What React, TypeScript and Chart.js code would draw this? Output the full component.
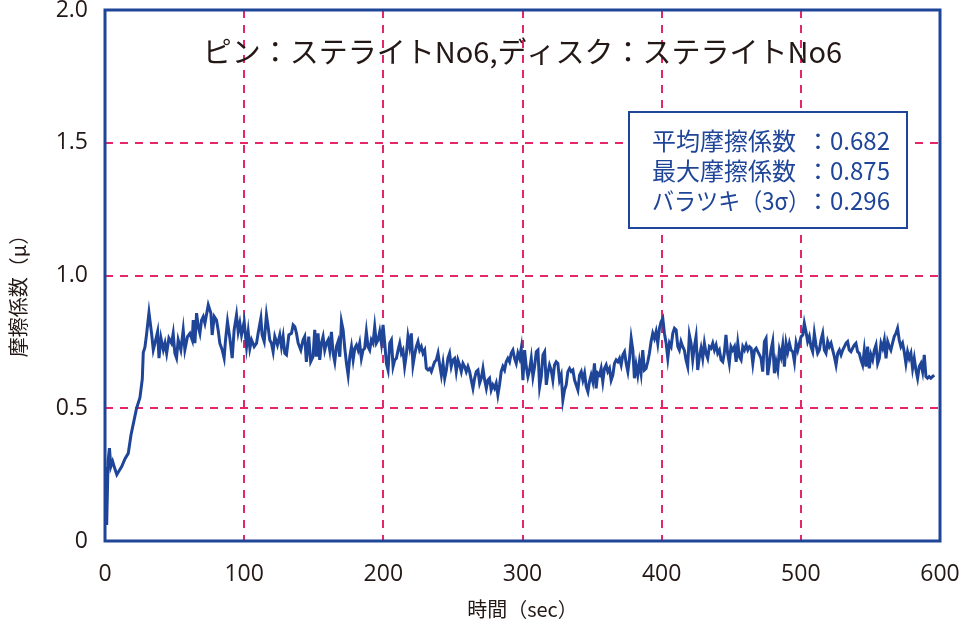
import { useEffect, useRef } from 'react';
import { Chart, registerables } from 'chart.js';

Chart.register(...registerables);

// ---- data (time in seconds, friction coefficient μ) ----
const timeSec: number[] = [
  0, 1.2, 2.2, 3.2, 4.2, 5.5, 7.2, 8.5, 9.6, 12.0,
  14.4, 16.7, 18.7, 20.3, 22.7, 25.1, 26.8, 27.5, 28.7, 29.9,
  31.6, 33.5, 34.7, 35.9, 37.8, 38.8, 40.2, 41.9, 43.1, 44.3,
  45.9, 47.8, 49.0, 50.2, 51.4, 52.6, 54.5, 56.2, 57.4, 59.3,
  61.0, 62.7, 63.4, 64.6, 65.8, 67.0, 68.2, 69.4, 70.6, 71.8,
  74.2, 76.1, 77.0, 78.5, 80.1, 81.3, 82.5, 84.2, 85.6, 86.6,
  88.0, 89.7, 91.4, 92.8, 94.5, 95.7, 96.9, 98.1, 100.0, 101.7,
  102.9, 104.1, 105.3, 107.2, 108.9, 110.0, 112.0, 112.9, 114.4, 116.0,
  117.2, 118.4, 119.6, 120.8, 122.0, 123.9, 125.6, 126.8, 128.0, 129.2,
  130.4, 132.1, 134.0, 135.2, 136.4, 137.6, 138.8, 140.7, 142.3, 143.5,
  144.7, 146.4, 147.8, 149.5,
  150.7, 151.9, 153.1, 154.3, 155.5, 156.7, 157.9, 159.1, 160.3, 161.5,
  162.7, 163.9, 165.1, 166.3, 167.5, 168.7, 169.9, 171.1, 172.3, 173.5,
  174.7, 175.9, 177.1, 178.3, 179.5, 180.7, 181.9, 183.0, 184.2, 185.4,
  186.6, 187.8, 189.0, 190.2, 191.4, 192.6, 193.8, 195.0, 196.2, 197.4,
  198.6, 199.8, 201.0, 202.2, 203.4, 204.6, 205.8, 207.0, 208.2, 209.4,
  210.6, 211.8, 213.0, 214.1, 215.3, 216.5, 217.7, 218.9, 220.1, 221.3,
  222.5, 223.7, 224.9, 226.1, 227.3, 228.5, 229.7, 230.9, 232.1, 233.3,
  234.5, 235.7, 236.9, 238.1, 239.3, 240.5, 241.7, 242.9, 244.1, 245.3,
  246.4, 247.6, 248.8, 250.0, 251.2, 252.4, 253.6, 254.8, 256.0, 257.2,
  258.4, 259.6, 260.8, 262.0, 263.2, 264.4, 265.6, 266.8, 268.0, 269.2,
  270.4, 271.6, 272.8, 274.0, 275.1, 276.3, 277.5, 278.7, 279.9, 281.1,
  282.3, 283.5, 284.7, 285.9, 287.1, 288.3, 289.5, 290.7, 291.9, 293.1,
  294.3, 295.5, 296.7, 297.9, 299.1, 300.3,
  301.5, 302.7, 303.9, 305.1, 306.3, 307.5, 308.7, 309.9, 311.1, 312.3,
  313.5, 314.7, 315.9, 317.1, 318.2, 319.4, 320.6, 321.8, 323.0, 324.2,
  325.4, 326.6, 327.8, 329.0, 330.2, 331.4, 332.6, 333.8, 335.0, 336.2,
  337.4, 338.6, 339.8, 341.0, 342.2, 343.4, 344.6, 345.8, 347.0, 348.1,
  349.3, 350.5, 351.7, 352.9, 354.1, 355.3, 356.5, 357.7, 358.9, 360.1,
  361.3, 362.5, 363.7, 364.9, 366.1, 367.3, 368.5, 369.7, 370.9, 372.1,
  373.3, 374.5, 375.7, 376.9, 378.1, 379.3, 380.4, 381.6, 382.8, 384.0,
  385.2, 386.4, 387.6, 388.8, 390.0, 391.2, 392.4, 393.6, 394.8, 396.0,
  397.2, 398.4, 399.6, 400.8, 402.0, 403.2, 404.4, 405.6, 406.8, 408.0,
  409.2, 410.4, 411.6, 412.7, 413.9, 415.1, 416.3, 417.5, 418.7, 419.9,
  421.1, 422.3, 423.5, 424.7, 425.9, 427.1, 428.3, 429.5, 430.7, 431.9,
  433.1, 434.3, 435.5, 436.7, 437.9, 439.1, 440.3, 441.5, 442.7, 443.9,
  445.0, 446.2, 447.4, 448.6, 449.8, 451.0,
  452.3, 453.5, 454.7, 455.9, 457.1, 458.3, 459.5, 460.7, 461.9, 463.1,
  464.3, 465.5, 466.7, 467.9, 469.1, 470.3, 471.4, 472.6, 473.8, 475.0,
  476.2, 477.4, 478.6, 479.8, 481.0, 482.2, 483.4, 484.6, 485.8, 487.0,
  488.2, 489.4, 490.6, 491.8, 493.0, 494.2, 495.4, 496.6, 497.8, 499.0,
  500.2, 501.4, 502.5, 503.7, 504.9, 506.1, 507.3, 508.5, 509.7, 510.9,
  512.1, 513.3, 514.5, 515.7, 516.9, 518.1, 519.3, 520.5, 521.7, 522.9,
  524.1, 525.3, 526.5, 527.7, 528.9, 530.1, 531.3, 532.5, 533.6, 534.8,
  536.0, 537.2, 538.4, 539.6, 540.8, 542.0, 543.2, 544.4, 545.6, 546.8,
  548.0, 549.2, 550.4, 551.6, 552.8, 554.0, 555.2, 556.4, 557.6, 558.8,
  560.0, 561.2, 562.4, 563.6, 564.7, 565.9, 567.1, 568.3, 569.5, 570.7,
  571.9, 573.1, 574.3, 575.5, 576.7, 577.9, 579.1, 580.3, 581.5, 582.7,
  583.9, 585.1, 586.3, 587.5, 588.7, 589.9, 591.0, 592.2, 593.4, 594.6,
  595.8,
];

const frictionMu: number[] = [
  0.28, 0.06, 0.30, 0.35, 0.28, 0.30, 0.27, 0.25, 0.26, 0.28,
  0.31, 0.33, 0.40, 0.44, 0.50, 0.54, 0.61, 0.71, 0.73, 0.78,
  0.86, 0.78, 0.72, 0.745, 0.788, 0.689, 0.764, 0.72, 0.745, 0.707,
  0.764, 0.745, 0.782, 0.707, 0.689, 0.757, 0.72, 0.795, 0.72, 0.77,
  0.782, 0.757, 0.832, 0.745, 0.858, 0.807, 0.782, 0.832, 0.845, 0.82,
  0.889, 0.858, 0.776, 0.845, 0.832, 0.795, 0.745, 0.72, 0.689, 0.757,
  0.826, 0.764, 0.689, 0.795, 0.851, 0.788, 0.82, 0.776, 0.826, 0.732,
  0.788, 0.726, 0.757, 0.732, 0.745, 0.782, 0.839, 0.776, 0.751, 0.851,
  0.807, 0.757, 0.745, 0.713, 0.77, 0.738, 0.776, 0.732, 0.77, 0.707,
  0.701, 0.776, 0.782, 0.814, 0.807, 0.782, 0.745, 0.719, 0.757, 0.77,
  0.675, 0.77, 0.675, 0.694,
  0.795, 0.694, 0.782, 0.682, 0.745, 0.770, 0.719, 0.745, 0.757, 0.719,
  0.788, 0.707, 0.675, 0.732, 0.751, 0.694, 0.826, 0.795, 0.726, 0.669,
  0.625, 0.694, 0.732, 0.682, 0.726, 0.738, 0.719, 0.745, 0.688, 0.719,
  0.726, 0.788, 0.732, 0.719, 0.757, 0.745, 0.807, 0.745, 0.757, 0.788,
  0.745, 0.814, 0.745, 0.669, 0.644, 0.745, 0.757, 0.657, 0.682, 0.688,
  0.719, 0.745, 0.707, 0.719, 0.657, 0.701, 0.770, 0.732, 0.782, 0.663,
  0.701, 0.732, 0.751, 0.719, 0.732, 0.707, 0.719, 0.650, 0.644, 0.650,
  0.638, 0.657, 0.675, 0.682, 0.707, 0.663, 0.625, 0.669, 0.613, 0.644,
  0.688, 0.707, 0.657, 0.682, 0.688, 0.638, 0.682, 0.663, 0.638, 0.669,
  0.657, 0.638, 0.657, 0.638, 0.606, 0.575, 0.613, 0.638, 0.644, 0.594,
  0.613, 0.650, 0.606, 0.575, 0.606, 0.613, 0.569, 0.588, 0.575, 0.594,
  0.550, 0.588, 0.638, 0.657, 0.644, 0.675, 0.688, 0.675, 0.707, 0.719,
  0.688, 0.669, 0.707, 0.688, 0.726, 0.606,
  0.719, 0.657, 0.619, 0.644, 0.688, 0.619, 0.657, 0.713, 0.719, 0.581,
  0.619, 0.701, 0.713, 0.588, 0.632, 0.663, 0.644, 0.606, 0.663, 0.675,
  0.669, 0.606, 0.625, 0.531, 0.569, 0.588, 0.638, 0.650, 0.638, 0.644,
  0.606, 0.588, 0.569, 0.625, 0.638, 0.606, 0.632, 0.581, 0.562, 0.600,
  0.625, 0.600, 0.669, 0.575, 0.632, 0.625, 0.650, 0.600, 0.650, 0.663,
  0.638, 0.650, 0.606, 0.625, 0.669, 0.682, 0.675, 0.688, 0.663, 0.701,
  0.713, 0.669, 0.638, 0.688, 0.763, 0.719, 0.613, 0.663, 0.625, 0.675,
  0.632, 0.719, 0.644, 0.650, 0.675, 0.707, 0.751, 0.782, 0.763, 0.788,
  0.745, 0.801, 0.826, 0.839, 0.782, 0.745, 0.688, 0.745, 0.732, 0.782,
  0.801, 0.795, 0.732, 0.719, 0.751, 0.732, 0.719, 0.682, 0.657, 0.776,
  0.745, 0.682, 0.732, 0.770, 0.644, 0.694, 0.726, 0.688, 0.745, 0.707,
  0.688, 0.732, 0.726, 0.745, 0.719, 0.738, 0.707, 0.719, 0.682, 0.675,
  0.707, 0.776, 0.707, 0.669, 0.732, 0.719,
  0.732, 0.675, 0.745, 0.694, 0.682, 0.732, 0.719, 0.738, 0.719, 0.732,
  0.726, 0.669, 0.719, 0.726, 0.713, 0.701, 0.688, 0.638, 0.751, 0.763,
  0.625, 0.669, 0.719, 0.751, 0.632, 0.675, 0.644, 0.719, 0.694, 0.738,
  0.657, 0.745, 0.713, 0.745, 0.719, 0.713, 0.675, 0.745, 0.719, 0.745,
  0.770, 0.776, 0.820, 0.788, 0.751, 0.770, 0.732, 0.713, 0.782, 0.738,
  0.707, 0.719, 0.757, 0.782, 0.719, 0.707, 0.751, 0.732, 0.745, 0.719,
  0.694, 0.663, 0.707, 0.719, 0.701, 0.719, 0.732, 0.745, 0.751, 0.719,
  0.713, 0.726, 0.738, 0.745, 0.713, 0.707, 0.682, 0.663, 0.719, 0.657,
  0.732, 0.650, 0.701, 0.682, 0.719, 0.738, 0.669, 0.688, 0.745, 0.726,
  0.757, 0.688, 0.751, 0.732, 0.719, 0.745, 0.770, 0.782, 0.801, 0.757,
  0.732, 0.745, 0.713, 0.669, 0.713, 0.688, 0.707, 0.650, 0.688, 0.644,
  0.613, 0.657, 0.669, 0.638, 0.701, 0.619, 0.613, 0.619, 0.613, 0.619,
  0.625,
];

const yTickLabels = ['0', '0.5', '1.0', '1.5', '2.0'];
const chartTitle = 'ピン：ステライトNo6,ディスク：ステライトNo6';
const statLabels = ['平均摩擦係数', '最大摩擦係数', 'バラツキ（3σ）'];
const statValues = ['0.682', '0.875', '0.296'];
const xAxisTitle = '時間（sec）';
const yAxisTitle = '摩擦係数（μ）';

const BLUE = '#1f4599';
const RED = '#e5266a';
const INK = '#231815';
const JP = '"Noto Sans CJK JP", "Noto Sans", sans-serif';
const NUM = '"Open Sans", "Noto Sans", sans-serif';

const overlayPlugin = {
  id: 'overlay',
  afterDatasetsDraw(chart: any) {
    const { ctx, chartArea: a } = chart;
    const cx = (a.left + a.right) / 2;
    ctx.save();

    // title inside plot
    ctx.fillStyle = INK;
    ctx.font = `29px ${JP}`;
    ctx.textAlign = 'center';
    ctx.textBaseline = 'middle';
    ctx.fillText(chartTitle, cx, a.top + 42);

    // stats box
    const bx = a.left + 524;
    const by = a.top + 102;
    const bw = 278;
    const bh = 116;
    ctx.fillStyle = '#ffffff';
    ctx.fillRect(bx, by, bw, bh);
    ctx.strokeStyle = BLUE;
    ctx.lineWidth = 2;
    ctx.strokeRect(bx, by, bw, bh);
    ctx.fillStyle = BLUE;
    ctx.font = `24px ${JP}`;
    ctx.textAlign = 'left';
    for (let i = 0; i < statLabels.length; i++) {
      const ly = by + 29 + i * 30;
      ctx.fillText(statLabels[i], bx + 23, ly, 158);
      ctx.fillText('：' + statValues[i], bx + 177, ly);
    }

    // axis titles
    ctx.fillStyle = INK;
    ctx.font = `20px ${JP}`;
    ctx.textAlign = 'center';
    ctx.fillText(xAxisTitle, cx, 609);
    ctx.save();
    ctx.translate(18, 291);
    ctx.rotate(-Math.PI / 2);
    ctx.fillText(yAxisTitle, 0, 0);
    ctx.restore();

    // frame
    ctx.strokeStyle = BLUE;
    ctx.lineWidth = 3;
    ctx.strokeRect(a.left, a.top, a.right - a.left, a.bottom - a.top);
    ctx.restore();
  },
};

export default function App() {
  const ref = useRef<HTMLCanvasElement | null>(null);

  useEffect(() => {
    if (!ref.current) return;
    const points = timeSec.map((t, i) => ({ x: t, y: frictionMu[i] }));
    const chart = new Chart(ref.current, {
      type: 'line',
      data: {
        datasets: [
          {
            data: points,
            borderColor: BLUE,
            borderWidth: 3,
            pointRadius: 0,
            tension: 0,
            fill: false,
          },
        ],
      },
      options: {
        animation: false,
        responsive: false,
        devicePixelRatio: 1,
        layout: { padding: { top: 10, right: 22, left: 0, bottom: 0 } },
        plugins: {
          legend: { display: false },
          tooltip: { enabled: false },
          title: { display: false },
        },
        scales: {
          x: {
            type: 'linear',
            min: 0,
            max: 600,
            ticks: {
              stepSize: 100,
              color: INK,
              font: { family: NUM, size: 23 },
              padding: 20,
              maxRotation: 0,
            },
            grid: {
              color: (c: any) =>
                c.tick && (c.tick.value === 0 || c.tick.value === 600) ? 'rgba(0,0,0,0)' : RED,
              lineWidth: 2,
              drawTicks: false,
            },
            border: { display: false, dash: [8, 7] },
            afterFit: (s: any) => {
              s.height = 86;
              s.paddingLeft = 0;
              s.paddingRight = 0;
            },
          },
          y: {
            type: 'linear',
            min: 0,
            max: 2,
            ticks: {
              stepSize: 0.5,
              color: INK,
              font: { family: NUM, size: 23 },
              padding: 17,
              callback: (v: any) => yTickLabels[Math.round(Number(v) / 0.5)],
            },
            grid: {
              color: (c: any) =>
                c.tick && (c.tick.value === 0 || c.tick.value === 2) ? 'rgba(0,0,0,0)' : RED,
              lineWidth: 2,
              drawTicks: false,
            },
            border: { display: false, dash: [8, 7] },
            afterFit: (s: any) => {
              s.width = 105;
              s.paddingTop = 0;
              s.paddingBottom = 0;
            },
          },
        },
      },
      plugins: [overlayPlugin],
    });
    return () => chart.destroy();
  }, []);

  return (
    <div style={{ position: 'fixed', left: 0, top: 0, width: 962, height: 627, background: '#fff' }}>
      <canvas ref={ref} width={962} height={627} style={{ width: 962, height: 627 }} />
    </div>
  );
}
